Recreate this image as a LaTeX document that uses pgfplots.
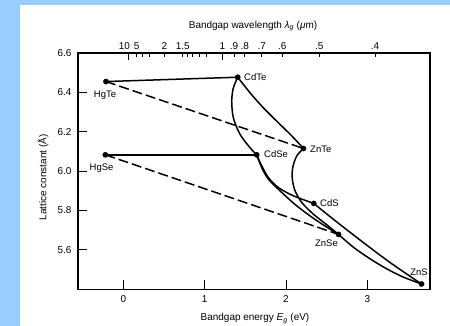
\documentclass[border=0pt]{standalone}
\usepackage{pgfplots}
\pgfplotsset{compat=1.18}
\usepackage{fontspec}
\setmainfont{Liberation Sans}
\definecolor{bgblue}{HTML}{99CCFF}
\begin{document}
\fontsize{10}{12}\selectfont
\begin{tikzpicture}[font=\fontsize{10}{12}\selectfont]
\fill[bgblue] (0bp,0bp) rectangle (450bp,326bp);
\fill[white] (20bp,0bp) rectangle (450bp,321bp);
\begin{axis}[at={(78bp,36.7bp)}, anchor=south west, scale only axis,
 width=352bp, height=236.3bp,
 xmin=-0.557, xmax=3.771, ymin=5.4, ymax=6.6,
 xtick={0,1,2,3}, xticklabels={0,1,2,3},
 ytick={5.6,5.8,6.0,6.2,6.4,6.6}, yticklabels={5.6,5.8,6.0,6.2,6.4,6.6},
 xtick pos=left, ytick pos=left, tick align=inside, major tick length=9bp,
 axis line style={line width=1.1pt}, tick style={line width=0.9pt, black},
 xticklabel style={yshift=-3bp}, yticklabel style={xshift=-3bp},
 clip=false]
\addplot[line width=1.5pt] coordinates {(-0.213,6.455) (1.407,6.477)};
\addplot[line width=1.5pt] coordinates {(-0.221,6.083) (1.640,6.083)};
\addplot[line width=1.5pt, dash pattern=on 10bp off 4bp] coordinates {(-0.213,6.455) (2.216,6.115)};
\addplot[line width=1.5pt, dash pattern=on 10bp off 4bp] coordinates {(-0.221,6.083) (2.646,5.679)};
\addplot[line width=1.5pt, smooth] coordinates {(1.407,6.477) (1.558,6.398) (1.721,6.322) (1.906,6.246) (2.071,6.179) (2.216,6.115)};
\addplot[line width=1.5pt, smooth] coordinates {(1.407,6.477) (1.353,6.423) (1.333,6.356) (1.353,6.271) (1.435,6.187) (1.558,6.119) (1.640,6.083)};
\addplot[line width=1.5pt, smooth] coordinates {(2.216,6.115) (2.132,6.077) (2.083,6.018) (2.078,5.960) (2.111,5.901) (2.194,5.841) (2.336,5.782) (2.501,5.728) (2.646,5.679)};
\addplot[line width=1.5pt, smooth] coordinates {(1.640,6.083) (1.702,6.027) (1.783,5.968) (1.906,5.917) (2.090,5.875) (2.342,5.836)};
\addplot[line width=1.5pt, smooth] coordinates {(1.640,6.083) (1.702,6.018) (1.783,5.960) (1.927,5.900) (2.132,5.824) (2.378,5.749) (2.646,5.679)};
\addplot[line width=1.5pt, smooth] coordinates {(2.342,5.836) (2.603,5.749) (2.972,5.631) (3.300,5.530) (3.667,5.427)};
\addplot[line width=1.5pt, smooth] coordinates {(2.646,5.679) (2.828,5.614) (3.033,5.555) (3.239,5.504) (3.443,5.462) (3.667,5.427)};
\addplot[only marks, mark=*, mark size=2.6bp, black] coordinates {(-0.213,6.455) (1.407,6.477) (-0.221,6.083) (1.640,6.083) (2.216,6.115) (2.342,5.836) (2.646,5.679) (3.667,5.427)};
\begin{scope}[font=\fontsize{9.5}{11}\selectfont]
\node[anchor=west, inner sep=0] at (axis cs:1.484,6.480) {CdTe};
\node[inner sep=0] at (axis cs:-0.225,6.388) {HgTe};
\node[inner sep=0] at (axis cs:-0.268,6.014) {HgSe};
\node[anchor=west, inner sep=0] at (axis cs:1.730,6.085) {CdSe};
\node[anchor=west, inner sep=0] at (axis cs:2.296,6.113) {ZnTe};
\node[anchor=west, inner sep=0] at (axis cs:2.419,5.837) {CdS};
\node[inner sep=0] at (axis cs:2.498,5.632) {ZnSe};
\node[inner sep=0] at (axis cs:3.636,5.488) {ZnS};
\end{scope}
\end{axis}
\begin{axis}[at={(78bp,36.7bp)}, anchor=south west, scale only axis,
 width=352bp, height=236.3bp,
 xmin=-0.557, xmax=3.771, ymin=5.4, ymax=6.6,
 axis x line*=top, axis y line=none, axis line style={draw=none},
 xtick={0.062,0.165,0.504,0.731,1.218,1.361,1.493,1.702,1.955,2.410,3.096},
 xticklabels={\hspace*{-8bp}10,5,2,1.5,1,.9,.8,.7,.6,.5,.4},
 minor xtick={0.234,0.320,0.787,0.853,0.935,1.025},
 extra x ticks={0.062,1.218}, extra x tick labels={},
 extra tick style={major tick length=7bp},
 major tick length=4bp, minor tick length=4bp, tick align=inside,
 tick style={line width=0.9pt, black}]
\addplot[draw=none] coordinates {(0,6)};
\end{axis}
\node[rotate=90] at (43bp,148.5bp) {Lattice constant (Å)};
\node at (253bp,300bp) {Bandgap wavelength \textit{λ}\textsubscript{\textit{g}} (\textit{μ}m)};
\node at (255bp,7.5bp) {Bandgap energy \textit{E}\textsubscript{\textit{g}} (eV)};
\pgfresetboundingbox
\path (0bp,0bp) rectangle (450bp,326bp);
\end{tikzpicture}
\end{document}
